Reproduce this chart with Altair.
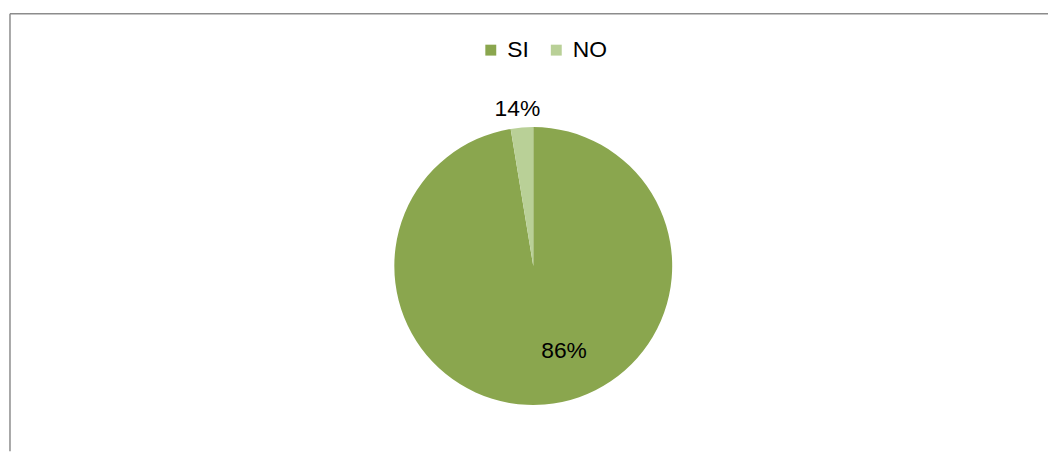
import math
import altair as alt
import pandas as pd

# Data
categories = ["SI", "NO"]
slice_values = [97.4, 2.6]          # share of the circle as drawn
label_texts = ["86%", "14%"]         # labels as printed on the chart
order_index = [0, 1]
colors = ["#8aa64e", "#b9d097"]

df = pd.DataFrame({
    "cat": categories,
    "value": slice_values,
    "label": label_texts,
    "idx": order_index,
})

CX, CY = 529.3, 258.3
TAU = 2 * math.pi
theta_scale = alt.Scale(domain=[0, 100], range=[0, TAU])

one = pd.DataFrame({"k": [0]})
frame_top = alt.Chart(one).mark_rule(stroke="#8c8c8c", strokeWidth=1.5).encode(
    x=alt.value(2), x2=alt.value(1048), y=alt.value(4)
)
frame_left = alt.Chart(one).mark_rule(stroke="#8c8c8c", strokeWidth=1.5).encode(
    x=alt.value(2), y=alt.value(4), y2=alt.value(445)
)

pie = alt.Chart(df).mark_arc(radius=140).encode(
    theta=alt.Theta("value:Q", stack=True, scale=theta_scale),
    order=alt.Order("idx:Q"),
    color=alt.Color(
        "cat:N",
        sort=categories,
        scale=alt.Scale(domain=categories, range=colors),
        legend=alt.Legend(
            orient="none", legendX=475, legendY=29, direction="horizontal",
            title=None, symbolType="square", symbolSize=121,
            symbolStrokeWidth=0, labelFontSize=23, labelFont="Liberation Sans",
            labelColor="black", labelOffset=5, columnPadding=16, padding=0,
        ),
    ),
    x=alt.value(CX),
    y=alt.value(CY),
)

lab = alt.Chart(df).transform_window(
    cum="sum(value)", sort=[alt.SortField("idx")], frame=[None, 0]
).transform_calculate(mid="datum.cum - datum.value / 2")

def label_layer(cat, radius, dx, dy):
    return lab.transform_filter(f"datum.cat == '{cat}'").mark_text(
        radius=radius, dx=dx, dy=dy, fontSize=23, font="Liberation Sans",
        color="black",
    ).encode(
        theta=alt.Theta("mid:Q", stack=False, scale=theta_scale),
        text="label:N",
        x=alt.value(CX),
        y=alt.value(CY),
    )

t_si = label_layer("SI", 86, 24, 0)
t_no = label_layer("NO", 159, -3, 0)

chart = alt.layer(frame_top, frame_left, pie, t_si, t_no).properties(
    width=1048, height=445, padding=0, background="white",
    autosize=alt.AutoSizeParams(type="fit", contains="padding"),
).configure_view(strokeWidth=0)

chart.save("out.html", embed_options={"renderer": "svg", "actions": False})
